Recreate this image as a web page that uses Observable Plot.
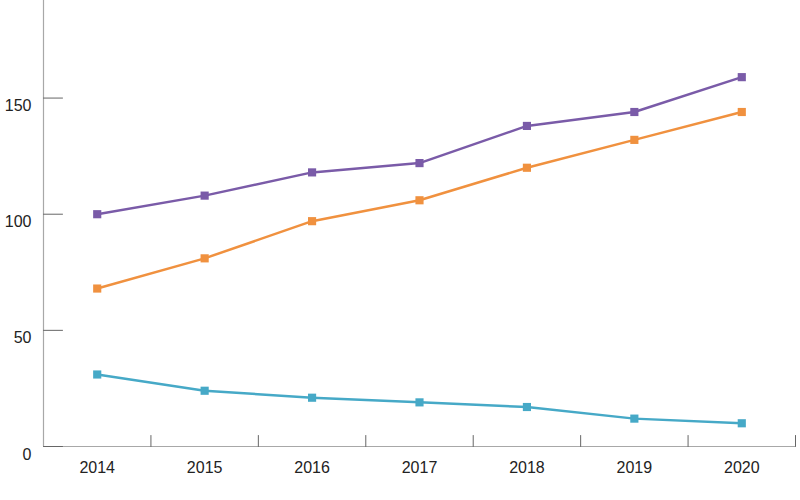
<!DOCTYPE html>
<html>
<head>
<meta charset="utf-8">
<script src="https://cdn.jsdelivr.net/npm/d3@7"></script>
<script src="https://cdn.jsdelivr.net/npm/@observablehq/plot@0.6"></script>
<style>
  html, body { margin: 0; padding: 0; background: #fff; }
  #chart { width: 800px; height: 500px; }
</style>
</head>
<body>
<div id="chart"></div>
<script>
// Yearly values for three series
const years = [2014, 2015, 2016, 2017, 2018, 2019, 2020];
const upperValues = [100, 108, 118, 122, 138, 144, 159];
const middleValues = [68, 81, 97, 106, 120, 132, 144];
const lowerValues = [31, 24, 21, 19, 17, 12, 10];

const seriesNames = ["upper", "middle", "lower"];
const seriesColors = ["#7a5ba8", "#f0913f", "#46a9c7"];
const yTickValues = [0, 50, 100, 150];
const yMax = 192;

// Each year sits in the middle of a one-year slot; slot edges get the x ticks
const xDomain = [years[0] - 0.5, years[years.length - 1] + 0.5];
const slotEdges = years.map(y => y + 0.5);

const rows = [];
[upperValues, middleValues, lowerValues].forEach((vals, s) => {
  vals.forEach((v, i) => rows.push({series: seriesNames[s], year: years[i], value: v}));
});

// Plain straight tick line for the vector mark
const tickShape = {
  draw(context, l) {
    context.moveTo(0, 0);
    context.lineTo(0, -l);
  }
};

const chart = Plot.plot({
  width: 800,
  height: 500,
  marginLeft: 43,
  marginRight: 5,
  marginTop: 0,
  marginBottom: 54,
  style: {fontFamily: "'Liberation Sans', Arial, sans-serif", fontSize: "16px", color: "#222", background: "#fff"},
  x: {domain: xDomain, label: null},
  y: {domain: [0, yMax], label: null},
  color: {domain: seriesNames, range: seriesColors},
  marks: [
    // axis lines
    Plot.ruleY([0], {stroke: "#a8a8a8", strokeWidth: 1.2}),
    Plot.ruleX([xDomain[0]], {stroke: "#a8a8a8", strokeWidth: 1.2}),
    // y ticks pointing into the plot
    Plot.vector(yTickValues, {y: d => d, frameAnchor: "left", anchor: "start", length: 19, rotate: 90, shape: tickShape, stroke: "#666", strokeWidth: 1}),
    // x ticks at slot edges pointing up
    Plot.vector(slotEdges, {x: d => d, frameAnchor: "bottom", anchor: "start", length: 11, rotate: 0, shape: tickShape, stroke: "#666", strokeWidth: 1}),
    Plot.axisY(yTickValues, {tickSize: 0, tickPadding: 12, dy: 8, label: null, tickFormat: d => String(d)}),
    Plot.axisX(years, {tickSize: 0, tickPadding: 15, label: null, tickFormat: d => String(d)}),
    Plot.line(rows, {x: "year", y: "value", z: "series", stroke: "series", strokeWidth: 2.5}),
    Plot.dot(rows, {x: "year", y: "value", fill: "series", symbol: "square", r: 4.6})
  ]
});

document.getElementById("chart").appendChild(chart);
</script>
</body>
</html>
